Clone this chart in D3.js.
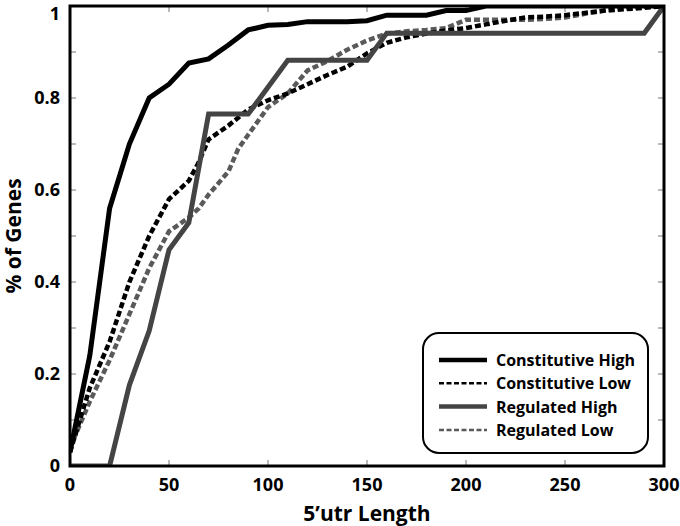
<!DOCTYPE html>
<html>
<head>
<meta charset="utf-8">
<script src="https://cdn.jsdelivr.net/npm/d3@7"></script>
<style>
  html, body { margin: 0; padding: 0; background: #fff; }
  svg text { font-family: "Open Sans", "Liberation Sans", sans-serif; }
</style>
</head>
<body>
<svg id="chart" width="680" height="526"></svg>
<script>
// ---- data ----
const seriesNames = ["Constitutive High", "Constitutive Low", "Regulated High", "Regulated Low"];

const constHighX = [0, 10, 20, 30, 40, 50, 60, 70, 80, 90, 100, 110, 120, 130, 140, 150, 160, 170, 180, 190, 200, 210, 300];
const constHighY = [0.03, 0.24, 0.56, 0.70, 0.80, 0.83, 0.876, 0.885, 0.915, 0.948, 0.958, 0.96, 0.966, 0.966, 0.966, 0.968, 0.98, 0.98, 0.98, 0.99, 0.99, 1, 1];

const constLowX = [0, 5, 10, 20, 30, 40, 50, 60, 65, 70, 80, 90, 100, 110, 120, 130, 140, 150, 160, 170, 180, 190, 200, 210, 220, 230, 240, 250, 260, 270, 280, 290, 300];
const constLowY = [0.03, 0.10, 0.17, 0.27, 0.40, 0.50, 0.58, 0.62, 0.66, 0.71, 0.74, 0.775, 0.795, 0.81, 0.83, 0.85, 0.868, 0.897, 0.92, 0.932, 0.94, 0.947, 0.952, 0.96, 0.968, 0.975, 0.977, 0.98, 0.985, 0.99, 0.993, 0.996, 1];

const regHighX = [0, 20, 30, 40, 50, 60, 70, 90, 110, 150, 160, 290, 300];
const regHighY = [0, 0, 0.176, 0.294, 0.47, 0.529, 0.765, 0.765, 0.882, 0.882, 0.941, 0.941, 1];

const regLowX = [0, 10, 20, 30, 40, 50, 60, 65, 70, 80, 85, 90, 100, 110, 120, 130, 140, 150, 160, 170, 180, 190, 200, 210, 220, 230, 240, 250, 260, 270, 280, 290, 300];
const regLowY = [0.04, 0.14, 0.23, 0.33, 0.43, 0.51, 0.54, 0.56, 0.59, 0.64, 0.69, 0.72, 0.78, 0.81, 0.86, 0.88, 0.905, 0.925, 0.94, 0.945, 0.948, 0.952, 0.97, 0.97, 0.97, 0.97, 0.972, 0.975, 0.983, 0.99, 0.995, 0.998, 1];

const xTicks = [0, 50, 100, 150, 200, 250, 300];
const yTicks = [0, 0.1, 0.2, 0.3, 0.4, 0.5, 0.6, 0.7, 0.8, 0.9, 1];
const yLabelTicks = [0, 0.2, 0.4, 0.6, 0.8, 1];

// ---- layout ----
const svg = d3.select("#chart");
const L = 70, R = 664, T = 6, B = 466;
const x = d3.scaleLinear().domain([0, 300]).range([L, R]);
const y = d3.scaleLinear().domain([0, 1]).range([B, T]);

const styles = [
  { color: "#000", width: 5, dash: null },
  { color: "#000", width: 4.5, dash: "6,3" },
  { color: "#444", width: 5, dash: null },
  { color: "#5a5a5a", width: 4.5, dash: "6,3" }
];

const allSeries = [
  d3.zip(constHighX, constHighY),
  d3.zip(constLowX, constLowY),
  d3.zip(regHighX, regHighY),
  d3.zip(regLowX, regLowY)
];

// clip
svg.append("clipPath").attr("id", "clip").append("rect")
  .attr("x", L).attr("y", T).attr("width", R - L).attr("height", B - T);

// ticks (inward, all four sides)
const tickG = svg.append("g").attr("stroke", "#777").attr("stroke-width", 1);
xTicks.forEach(t => {
  tickG.append("line").attr("x1", x(t)).attr("x2", x(t)).attr("y1", B).attr("y2", B - 6);
  tickG.append("line").attr("x1", x(t)).attr("x2", x(t)).attr("y1", T).attr("y2", T + 6);
});
yTicks.forEach(t => {
  tickG.append("line").attr("x1", L).attr("x2", L + 6).attr("y1", y(t)).attr("y2", y(t));
  tickG.append("line").attr("x1", R).attr("x2", R - 6).attr("y1", y(t)).attr("y2", y(t));
});

// lines
const line = d3.line().x(d => x(d[0])).y(d => y(d[1]));
const order = [3, 1, 2, 0];
const linesG = svg.append("g").attr("clip-path", "url(#clip)");
order.forEach(i => {
  linesG.append("path")
    .attr("d", line(allSeries[i]))
    .attr("fill", "none")
    .attr("stroke", styles[i].color)
    .attr("stroke-width", styles[i].width)
    .attr("stroke-dasharray", styles[i].dash)
    .attr("stroke-linejoin", "miter");
});

// frame
svg.append("rect").attr("x", L).attr("y", T).attr("width", R - L).attr("height", B - T)
  .attr("fill", "none").attr("stroke", "#000").attr("stroke-width", 3);

// tick labels
svg.append("g").selectAll("text").data(xTicks).join("text")
  .attr("x", d => x(d)).attr("y", 491)
  .attr("text-anchor", "middle")
  .attr("font-size", 18).attr("font-weight", 700)
  .text(d => d);

svg.append("g").selectAll("text").data(yLabelTicks).join("text")
  .attr("x", 60).attr("y", d => Math.max(y(d) + 6, 20))
  .attr("text-anchor", "end")
  .attr("font-size", 18).attr("font-weight", 700)
  .text(d => d3.format("~g")(d));

// axis titles
svg.append("text").attr("x", (L + R) / 2).attr("y", 521)
  .attr("text-anchor", "middle").attr("font-size", 21).attr("font-weight", 700)
  .text("5\u2019utr Length");
svg.append("text").attr("transform", `translate(21,${(T + B) / 2}) rotate(-90)`)
  .attr("text-anchor", "middle").attr("font-size", 21).attr("font-weight", 700)
  .text("% of Genes");

// legend
const lg = svg.append("g");
lg.append("rect").attr("x", 423).attr("y", 333).attr("width", 225).attr("height", 120)
  .attr("rx", 16).attr("ry", 16)
  .attr("fill", "#fff").attr("stroke", "#000").attr("stroke-width", 2);
seriesNames.forEach((name, i) => {
  const yy = 360 + i * 23.3;
  lg.append("line").attr("x1", 439).attr("x2", 487).attr("y1", yy).attr("y2", yy)
    .attr("stroke", styles[i].color)
    .attr("stroke-width", i % 2 === 0 ? 4.5 : 2.5)
    .attr("stroke-dasharray", i % 2 === 0 ? null : "5,2.5");
  lg.append("text").attr("x", 496).attr("y", yy + 6)
    .attr("font-size", 16).attr("font-weight", 700)
    .text(name);
});
</script>
</body>
</html>
